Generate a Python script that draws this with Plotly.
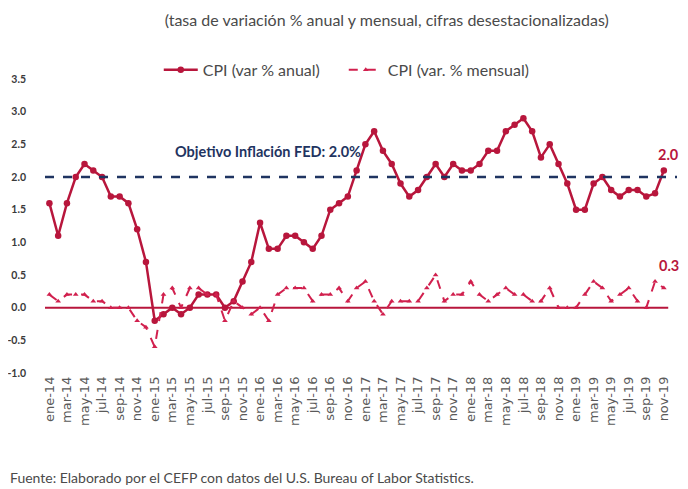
import plotly.graph_objects as go

# Monthly categories ene-14 .. dic-19 (dic-19 has no data yet)
MESES = ["ene", "feb", "mar", "abr", "may", "jun", "jul", "ago", "sep", "oct", "nov", "dic"]
ANIOS = ["14", "15", "16", "17", "18", "19"]
categorias = [f"{m}-{a}" for a in ANIOS for m in MESES]

# CPI, variacion % anual
cpi_anual = [
    1.6, 1.1, 1.6, 2.0, 2.2, 2.1, 2.0, 1.7, 1.7, 1.6, 1.2, 0.7,
    -0.2, -0.1, 0.0, -0.1, 0.0, 0.2, 0.2, 0.2, 0.0, 0.1, 0.4, 0.7,
    1.3, 0.9, 0.9, 1.1, 1.1, 1.0, 0.9, 1.1, 1.5, 1.6, 1.7, 2.1,
    2.5, 2.7, 2.4, 2.2, 1.9, 1.7, 1.8, 2.0, 2.2, 2.0, 2.2, 2.1,
    2.1, 2.2, 2.4, 2.4, 2.7, 2.8, 2.9, 2.7, 2.3, 2.5, 2.2, 1.9,
    1.5, 1.5, 1.9, 2.0, 1.8, 1.7, 1.8, 1.8, 1.7, 1.75, 2.1,
]

# CPI, variacion % mensual desestacionalizada
cpi_mensual = [
    0.2, 0.1, 0.2, 0.2, 0.2, 0.1, 0.1, 0.0, 0.0, 0.0, -0.2, -0.3,
    -0.6, 0.2, 0.3, 0.0, 0.3, 0.3, 0.2, 0.2, -0.2, 0.1, 0.0, -0.1,
    0.0, -0.2, 0.2, 0.3, 0.3, 0.3, 0.1, 0.2, 0.2, 0.3, 0.1, 0.3,
    0.4, 0.1, -0.1, 0.1, 0.1, 0.1, 0.1, 0.3, 0.5, 0.1, 0.2, 0.2,
    0.4, 0.2, 0.1, 0.2, 0.3, 0.2, 0.2, 0.1, 0.1, 0.3, 0.0, 0.0,
    0.0, 0.2, 0.4, 0.3, 0.1, 0.2, 0.3, 0.1, 0.0, 0.4, 0.3,
]

OBJETIVO_FED = 2.0
ETIQUETA_ANUAL = "2.0"    # labels written at the end of each series
ETIQUETA_MENSUAL = "0.3"
y_ticks = [-1.0, -0.5, 0.0, 0.5, 1.0, 1.5, 2.0, 2.5, 3.0, 3.5]

ROJO = "#b8163c"
ROSA = "#d1204e"
AZUL = "#1f3461"
GRIS = "#4a4a4a"
FONT = "Lato"

# the page body keeps an 8px margin, so the figure is 8px smaller than the window
W, H = 680, 481

x_anual = list(range(len(cpi_anual)))
x_mensual = list(range(len(cpi_mensual)))
ultimo = len(cpi_anual) - 1

fig = go.Figure()

fig.add_trace(go.Scatter(
    x=x_anual, y=cpi_anual, name="CPI (var % anual)", mode="lines+markers",
    line=dict(color=ROJO, width=2.5), marker=dict(symbol="circle", size=6.5, color=ROJO),
))
fig.add_trace(go.Scatter(
    x=x_mensual, y=cpi_mensual, name="CPI (var. % mensual)", mode="lines+markers",
    line=dict(color=ROSA, width=2, dash="dash"),
    marker=dict(symbol="triangle-up", size=5, color=ROSA),
))

# zero line and FED target line
fig.add_shape(type="line", xref="x", yref="y", x0=-0.5, x1=ultimo + 0.5, y0=0, y1=0,
              line=dict(color=ROJO, width=2), layer="below")
fig.add_shape(type="line", xref="x", yref="y", x0=-0.5, x1=len(categorias) - 0.5,
              y0=OBJETIVO_FED, y1=OBJETIVO_FED, line=dict(color=AZUL, width=2.5, dash="dash"))

fig.add_annotation(x=24.9, y=2.39, xref="x", yref="y", showarrow=False,
                   text="<b>Objetivo Inflación FED: 2.0%</b>",
                   font=dict(family=FONT, size=14.5, color=AZUL))
fig.add_annotation(x=1.007, y=2.34, xref="paper", yref="y", xanchor="right", showarrow=False,
                   text=f"<b>{ETIQUETA_ANUAL}</b>", font=dict(family=FONT, size=14.5, color=ROJO))
fig.add_annotation(x=1.007, y=0.64, xref="paper", yref="y", xanchor="right", showarrow=False,
                   text=f"<b>{ETIQUETA_MENSUAL}</b>", font=dict(family=FONT, size=14.5, color=ROJO))
fig.add_annotation(x=-0.058, y=-0.357, xref="paper", yref="paper", xanchor="left",
                   yanchor="middle", showarrow=False,
                   text="Fuente: Elaborado por el CEFP con datos del U.S. Bureau of Labor Statistics.",
                   font=dict(family=FONT, size=14, color=GRIS))

fig.update_layout(
    width=W, height=H,
    margin=dict(l=37, r=11, t=71, b=116),
    paper_bgcolor="white", plot_bgcolor="white",
    font=dict(family=FONT, color=GRIS),
    title=dict(text="(tasa de variación % anual y mensual, cifras desestacionalizadas)",
               x=0.557, xanchor="center", xref="container", y=0.975, yanchor="middle",
               font=dict(family=FONT, size=16, color=GRIS)),
    legend=dict(orientation="h", x=0.18, xanchor="left", y=1.031, yanchor="middle",
                font=dict(family=FONT, size=16, color=GRIS), itemwidth=34,
                entrywidth=136, bgcolor="rgba(0,0,0,0)"),
    showlegend=True,
)
fig.update_xaxes(
    range=[-0.5, len(categorias) - 0.5], tickmode="array",
    tickvals=list(range(0, len(categorias), 2)), ticktext=categorias[::2],
    tickangle=-90, tickfont=dict(family="DejaVu Sans", size=13, color="#5a5a5a"),
    showgrid=False, zeroline=False, showline=False, ticks="", automargin=False,
)
fig.update_yaxes(
    range=[-1.0, 3.5], tickmode="array", tickvals=y_ticks,
    ticktext=[f"{v:.1f}" for v in y_ticks], ticklabelstandoff=18,
    tickfont=dict(family=FONT, size=10.5, color="#3a3a3a", weight="bold"),
    showgrid=False, zeroline=False, showline=False, ticks="", automargin=False,
)

fig.write_html("out.html")
